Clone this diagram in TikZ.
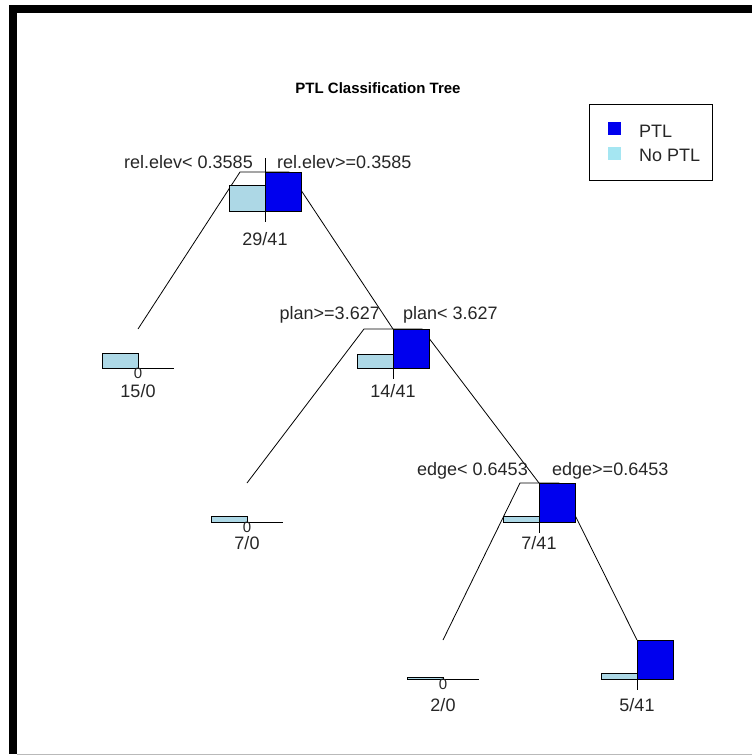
\documentclass[tikz,border=0pt]{standalone}
\usepackage{fontspec}
\setmainfont{Liberation Sans}
\usepackage{xcolor}
\usepackage{tikz}
\usetikzlibrary{positioning,calc}
\definecolor{ptlblue}{RGB}{0,0,238}
\definecolor{noptl}{RGB}{173,216,230}
\definecolor{keycyan}{RGB}{165,230,242}
\tikzset{
	ptlbar/.style={draw, fill=ptlblue, line width=1pt},
	nobar/.style={draw, fill=noptl, line width=1pt},
	zerobar/.style={line width=1pt},
	branch/.style={line width=0.8pt},
	tick/.style={line width=1pt},
	labeltext/.style={font=\fontsize{18}{20}\selectfont, inner sep=0pt, text=black!85},
	zerotext/.style={font=\fontsize{15}{17}\selectfont, inner sep=0pt, text=black!85},
	titletext/.style={font=\bfseries\fontsize{15}{17}\selectfont, inner sep=0pt}
}
\begin{document}
\begin{tikzpicture}[x=1pt, y=-1pt]
			\useasboundingbox (0,0) rectangle (752,756);
			
			%% -- Window frame
			\fill[black] (9,5) rectangle (752,13);
			\fill[black] (9,5) rectangle (17,754);
			\draw[gray!55, line width=1.2pt] (17,754.5) -- (752,754.5);
			
			%% -- Title
			\node[titletext] (title) at (378,88) {PTL Classification Tree};
			
			%% -- Legend
			\node[draw, line width=0.8pt, minimum width=123pt, minimum height=76pt,
			inner sep=0pt] (legend) at (650.5,142) {};
			\node[fill=ptlblue, minimum size=13pt, inner sep=0pt] (keyptl) at (614.5,128.5) {};
			\node[fill=keycyan, minimum size=13pt, inner sep=0pt] (keyno) at (614.5,153.5) {};
			\node[labeltext, anchor=west] (txtptl) at (639,131) {PTL};
			\node[labeltext, anchor=west] (txtno) at (639,155) {No PTL};
			
			%% -- Tree points
			\coordinate (root) at (265,172);
			\coordinate (rootL) at (240,172);
			\coordinate (rootR) at (289,172);
			\coordinate (leafA) at (138,329);
			\coordinate (plan) at (393,329);
			\coordinate (planL) at (364,329);
			\coordinate (planR) at (422,329);
			\coordinate (leafB) at (247,483);
			\coordinate (edge) at (539,483);
			\coordinate (edgeL) at (520,483);
			\coordinate (edgeR) at (559,483);
			\coordinate (leafC) at (443,640);
			\coordinate (leafD) at (637,640);
			
			%% -- Branches
			\draw[branch] (root) -- (rootL) -- (leafA);
			\draw[branch] (root) -- (rootR) -- (plan);
			\draw[branch] (plan) -- (planL) -- (leafB);
			\draw[branch] (plan) -- (planR) -- (edge);
			\draw[branch] (edge) -- (edgeL) -- (leafC);
			\draw[branch] (edge) -- (edgeR) -- (leafD);
			
			%% -- Bars: root
			\draw[nobar] (229,185) rectangle (265,211);
			\draw[ptlbar] (265,172) rectangle (301,211);
			\draw[tick] (265,158) -- (265,222);
			
			%% -- Bars: leaf 15/0
			\draw[nobar] (102,353) rectangle (138,368);
			\draw[zerobar] (138,368) -- (174,368);
			
			%% -- Bars: plan
			\draw[nobar] (357,354) rectangle (393,368);
			\draw[ptlbar] (393,329) rectangle (429,368);
			\draw[tick] (393,368) -- (393,379);
			
			%% -- Bars: leaf 7/0
			\draw[nobar] (211,516) rectangle (247,522);
			\draw[zerobar] (247,522) -- (283,522);
			
			%% -- Bars: edge
			\draw[nobar] (503,516) rectangle (539,522);
			\draw[ptlbar] (539,483) rectangle (575,522);
			\draw[tick] (539,522) -- (539,533);
			
			%% -- Bars: leaf 2/0
			\draw[nobar] (407,677) rectangle (443,679);
			\draw[zerobar] (443,679) -- (479,679);
			
			%% -- Bars: leaf 5/41
			\draw[nobar] (601,673) rectangle (637,679);
			\draw[ptlbar] (637,640) rectangle (673,679);
			\draw[tick] (637,679) -- (637,690);
			
			%% -- Split labels
			\node[labeltext, anchor=east] (rootlo) at (253,162) {rel.elev< 0.3585};
			\node[labeltext, anchor=west] (roothi) at (277,162) {rel.elev>=0.3585};
			\node[labeltext, anchor=east] (planhi) at (380,315) {plan>=3.627};
			\node[labeltext, anchor=west] (planlo) at (403,315) {plan< 3.627};
			\node[labeltext, anchor=east] (edgelo) at (528,471) {edge< 0.6453};
			\node[labeltext, anchor=west] (edgehi) at (552,471) {edge>=0.6453};
			
			%% -- Counts
			\node[labeltext] (nroot) at (265,239) {29/41};
			\node[labeltext] (nleafA) at (138,391) {15/0};
			\node[labeltext] (nplan) at (393,391) {14/41};
			\node[labeltext] (nleafB) at (247,543) {7/0};
			\node[labeltext] (nedge) at (539,543) {7/41};
			\node[labeltext] (nleafC) at (443,705) {2/0};
			\node[labeltext] (nleafD) at (637,705) {5/41};
			
			%% -- Zero marks
			\node[zerotext] (zleafA) at (138,373) {0};
			\node[zerotext] (zleafB) at (247,527) {0};
			\node[zerotext] (zleafC) at (443,684) {0};
			
		\end{tikzpicture}
\end{document}
